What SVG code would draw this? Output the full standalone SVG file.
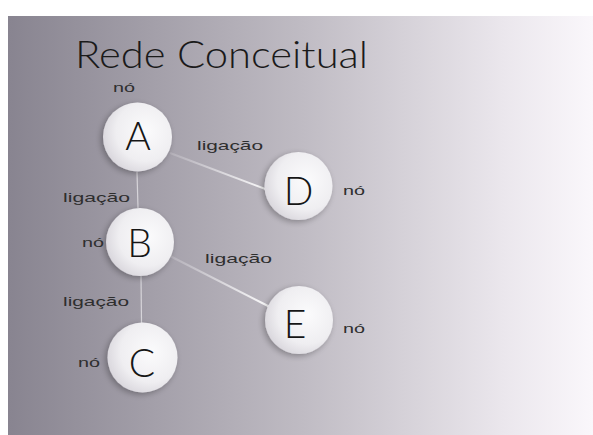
<svg xmlns="http://www.w3.org/2000/svg" width="593" height="435" viewBox="0 0 593 435">
  <defs>
    <linearGradient id="bg" x1="0" y1="0" x2="1" y2="0">
      <stop offset="0" stop-color="#888490"/>
      <stop offset="0.5" stop-color="#bfbbc3"/>
      <stop offset="0.85" stop-color="#ebe7ed"/>
      <stop offset="1" stop-color="#faf7fb"/>
    </linearGradient>
    <radialGradient id="ball" cx="0.62" cy="0.42" r="0.72">
      <stop offset="0" stop-color="#fbfbfc"/>
      <stop offset="0.6" stop-color="#efeef1"/>
      <stop offset="1" stop-color="#d2cfd6"/>
    </radialGradient>
    <filter id="sh" x="-30%" y="-30%" width="160%" height="160%">
      <feGaussianBlur in="SourceAlpha" stdDeviation="3"/>
      <feOffset dx="-2" dy="2"/>
      <feComponentTransfer><feFuncA type="linear" slope="0.3"/></feComponentTransfer>
      <feMerge><feMergeNode/><feMergeNode in="SourceGraphic"/></feMerge>
    </filter>
    <linearGradient id="lnAD" gradientUnits="userSpaceOnUse" x1="170" y1="153" x2="268" y2="190">
      <stop offset="0" stop-color="#e8e6ea" stop-opacity="0.2"/>
      <stop offset="1" stop-color="#ffffff" stop-opacity="0.95"/>
    </linearGradient>
    <linearGradient id="lnBE" gradientUnits="userSpaceOnUse" x1="168" y1="255" x2="270" y2="307">
      <stop offset="0" stop-color="#e8e6ea" stop-opacity="0.2"/>
      <stop offset="1" stop-color="#ffffff" stop-opacity="0.95"/>
    </linearGradient>
  </defs>
  <style>
    .ball { fill: url(#ball); filter: url(#sh); }
    .letter { font-family: Lato, "Liberation Sans", Arial, sans-serif; font-weight: 300; font-size: 39px; fill: #161616; text-anchor: middle; }
    .lbl { font-family: "Liberation Sans", Arial, sans-serif; font-size: 13px; fill: #2e2e2e; }
    .title { font-family: Lato, "Liberation Sans", Arial, sans-serif; font-weight: 300; font-size: 37px; fill: #1a1a1a; }
    .vline { stroke: #d6d4d9; stroke-width: 1.2; }
  </style>
  <rect x="0" y="0" width="593" height="435" fill="#ffffff"/>
  <rect x="8" y="16" width="585" height="419" fill="url(#bg)"/>
  <text class="title" x="75" y="68" textLength="293" lengthAdjust="spacingAndGlyphs">Rede Conceitual</text>

  <g id="connectors">
    <line class="vline" x1="137" y1="172" x2="138" y2="208"/>
    <line class="vline" x1="141" y1="276" x2="141.5" y2="323"/>
    <line x1="170" y1="153" x2="268" y2="190" stroke="url(#lnAD)" stroke-width="2"/>
    <line x1="168" y1="255" x2="270" y2="307" stroke="url(#lnBE)" stroke-width="2"/>
    <text class="lbl" x="197" y="150" textLength="66" lengthAdjust="spacingAndGlyphs">ligação</text>
    <text class="lbl" x="63" y="202" textLength="67" lengthAdjust="spacingAndGlyphs">ligação</text>
    <text class="lbl" x="205" y="263" textLength="67" lengthAdjust="spacingAndGlyphs">ligação</text>
    <text class="lbl" x="63" y="306" textLength="66" lengthAdjust="spacingAndGlyphs">ligação</text>
  </g>

  <g id="node-A">
    <circle class="ball" cx="137.5" cy="137" r="34.5"/>
    <text class="letter" x="138" y="150">A</text>
    <text class="lbl" x="113" y="92" textLength="22" lengthAdjust="spacingAndGlyphs">nó</text>
  </g>
  <g id="node-B">
    <circle class="ball" cx="140" cy="242" r="34"/>
    <text class="letter" x="139.5" y="257">B</text>
    <text class="lbl" x="82" y="247" textLength="22" lengthAdjust="spacingAndGlyphs">nó</text>
  </g>
  <g id="node-C">
    <circle class="ball" cx="142.5" cy="357.5" r="35"/>
    <text class="letter" x="142" y="377">C</text>
    <text class="lbl" x="78" y="367" textLength="22" lengthAdjust="spacingAndGlyphs">nó</text>
  </g>
  <g id="node-D">
    <circle class="ball" cx="298.5" cy="186" r="34"/>
    <text class="letter" x="298.5" y="205">D</text>
    <text class="lbl" x="343" y="195" textLength="22" lengthAdjust="spacingAndGlyphs">nó</text>
  </g>
  <g id="node-E">
    <circle class="ball" cx="299" cy="320" r="34"/>
    <text class="letter" x="295" y="338">E</text>
    <text class="lbl" x="343" y="333" textLength="22" lengthAdjust="spacingAndGlyphs">nó</text>
  </g>
</svg>
